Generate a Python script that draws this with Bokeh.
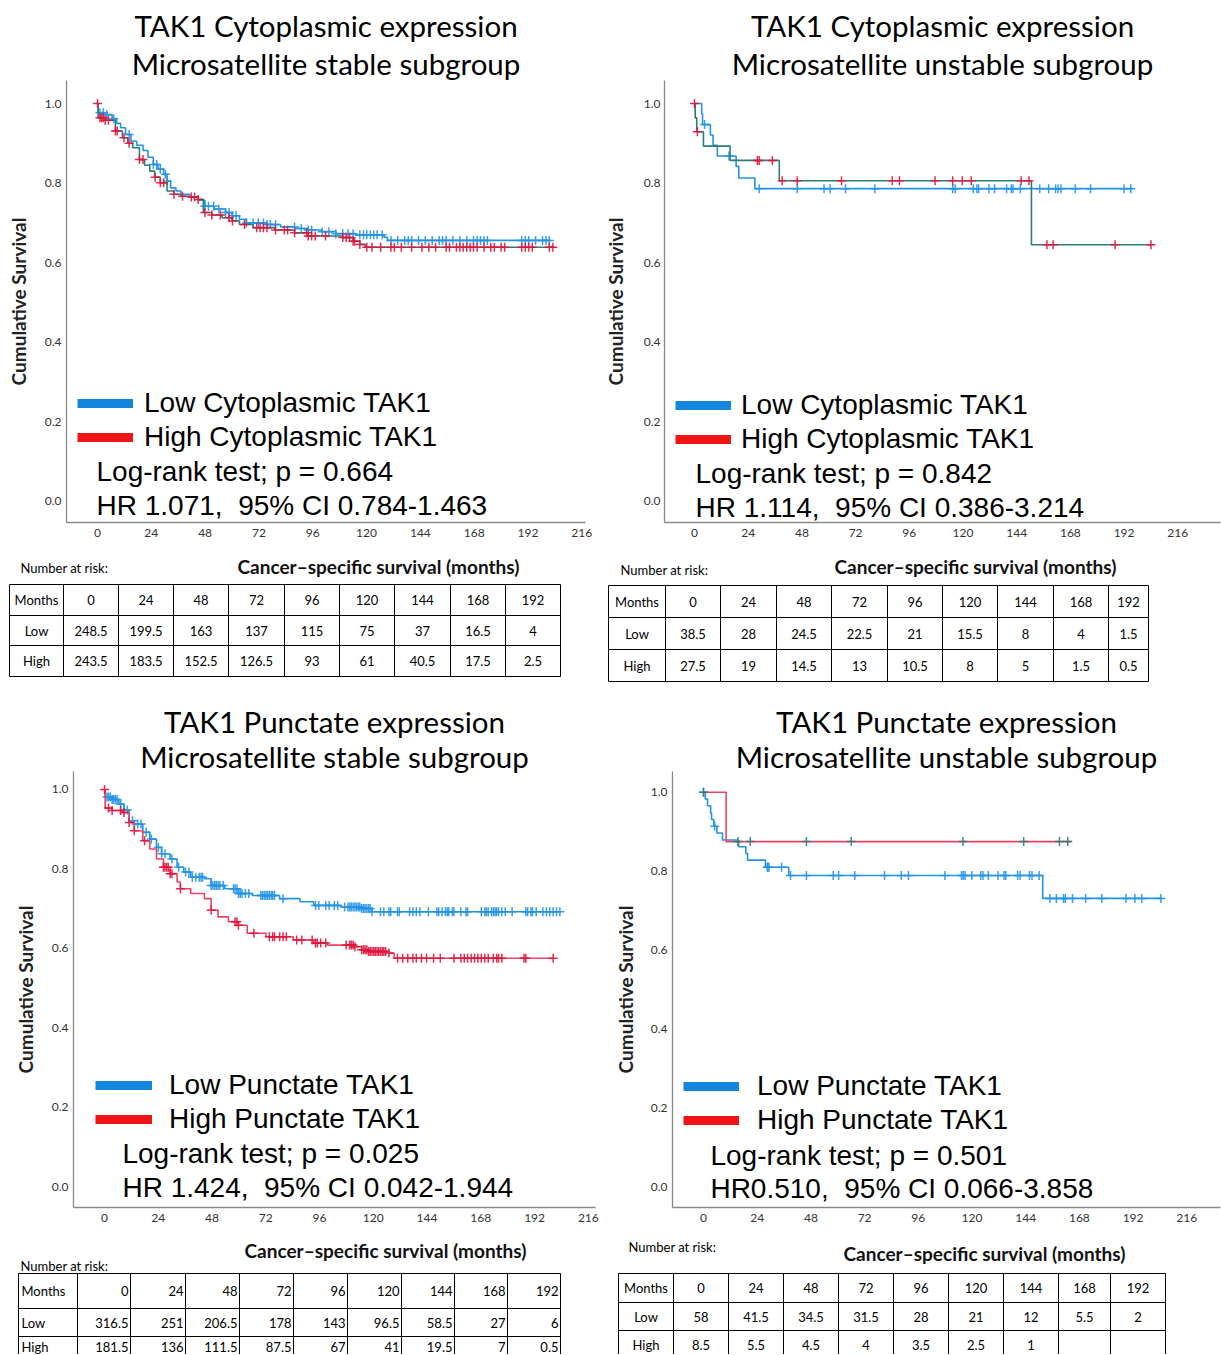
import numpy as np
from bokeh.plotting import figure
from bokeh.models import (Range1d, FixedTicker, PrintfTickFormatter, Title, Legend,
                          LegendItem, Label, ColumnDataSource)
from bokeh.layouts import column, row
from bokeh.embed import file_html
from bokeh.resources import INLINE
from bokeh.core.properties import value

# ------------------------------------------------------------------ DATA
title_line1 = ["TAK1 Cytoplasmic expression", "TAK1 Cytoplasmic expression",
               "TAK1 Punctate expression", "TAK1 Punctate expression"]
title_line2 = ["Microsatellite stable subgroup", "Microsatellite unstable subgroup",
               "Microsatellite stable subgroup", "Microsatellite unstable subgroup"]
low_labels = ["Low Cytoplasmic TAK1", "Low Cytoplasmic TAK1", "Low Punctate TAK1", "Low Punctate TAK1"]
high_labels = ["High Cytoplasmic TAK1", "High Cytoplasmic TAK1", "High Punctate TAK1", "High Punctate TAK1"]
logrank_texts = ["Log-rank test; p = 0.664", "Log-rank test; p = 0.842",
                 "Log-rank test; p = 0.025", "Log-rank test; p = 0.501"]
hr_texts = ["HR 1.071,\u00a0 95% CI 0.784-1.463", "HR 1.114,\u00a0 95% CI 0.386-3.214",
            "HR 1.424,\u00a0 95% CI 0.042-1.944", "HR0.510,\u00a0 95% CI 0.066-3.858"]
y_axis_title = "Cumulative Survival"
x_axis_title = "Cancer\u2013specific survival (months)"
risk_caption = "Number at risk:"
x_tick_values = [0, 24, 48, 72, 96, 120, 144, 168, 192, 216]
y_tick_values = [0.0, 0.2, 0.4, 0.6, 0.8, 1.0]

risk_months = [0, 24, 48, 72, 96, 120, 144, 168, 192]
risk_row_names = ["Months", "Low", "High"]
risk1_low = [248.5, 199.5, 163, 137, 115, 75, 37, 16.5, 4]
risk1_high = [243.5, 183.5, 152.5, 126.5, 93, 61, 40.5, 17.5, 2.5]
risk2_low = [38.5, 28, 24.5, 22.5, 21, 15.5, 8, 4, 1.5]
risk2_high = [27.5, 19, 14.5, 13, 10.5, 8, 5, 1.5, 0.5]
risk3_low = [316.5, 251, 206.5, 178, 143, 96.5, 58.5, 27, 6]
risk3_high = [181.5, 136, 111.5, 87.5, 67, 41, 19.5, 7, 0.5]
risk4_low = [58, 41.5, 34.5, 31.5, 28, 21, 12, 5.5, 2]
risk4_high = [8.5, 5.5, 4.5, 4, 3.5, 2.5, 1, None, None]

# Kaplan-Meier step curves (time in months, cumulative survival)
p1_low_t = [0, 0.3, 3.0, 6.5, 8.5, 10.3, 12.5, 14.9, 17.5, 20.3, 22.5, 24.9, 27.0, 29.5, 31.0, 32.6,
            35.0, 37.2, 41.0, 44.9, 47.9, 52.0, 57.1, 60.0, 63.3, 66.4, 75.0, 81.7, 88.0, 94.0,
            100.0, 106.3, 115.0, 127.8, 129.3, 202.0]
p1_low_s = [1.0, 0.977, 0.972, 0.962, 0.950, 0.939, 0.922, 0.905, 0.895, 0.882, 0.865, 0.847, 0.835,
            0.822, 0.805, 0.788, 0.780, 0.772, 0.765, 0.757, 0.742, 0.735, 0.726, 0.718, 0.709, 0.700,
            0.696, 0.690, 0.686, 0.682, 0.678, 0.673, 0.670, 0.664, 0.656, 0.656]
p1_low_cens = [1.1, 2.6, 4.1, 7.2, 14.1, 24.9, 26.4, 28.0, 30.3, 31.0, 47.9, 49.5, 51.8, 54.1, 57.1,
               58.7, 60.2, 61.8, 66.4, 69.4, 71.7, 74.0, 75.6, 77.1, 79.4, 87.9, 90.9, 94.0, 95.5,
               100.2, 103.2, 106.3, 109.4, 111.7, 114.0, 117.0, 118.6, 120.1, 121.7, 123.2, 124.7,
               127.0, 130.9, 133.9, 137.0, 138.6, 140.1, 143.2, 146.2, 149.3, 152.4, 153.9, 155.5,
               158.5, 161.6, 164.7, 167.7, 169.3, 170.8, 172.4, 173.9, 189.2, 190.8, 192.3, 195.4,
               198.5, 200.0, 201.5]
p1_high_t = [0, 0.3, 3.4, 8.0, 11.1, 13.5, 15.7, 18.7, 21.0, 23.3, 25.5, 28.0, 31.0, 34.0, 37.2, 41.0,
             44.9, 47.2, 51.0, 55.6, 60.0, 63.3, 69.4, 79.0, 87.9, 94.0, 109.4, 114.0, 117.0, 119.4, 204.0]
p1_high_s = [1.0, 0.964, 0.958, 0.931, 0.914, 0.900, 0.889, 0.859, 0.845, 0.830, 0.815, 0.801, 0.780,
             0.772, 0.767, 0.765, 0.759, 0.726, 0.720, 0.713, 0.705, 0.696, 0.688, 0.682, 0.675, 0.667,
             0.663, 0.654, 0.646, 0.639, 0.639]
p1_high_cens = [0.0, 1.1, 1.8, 2.6, 3.4, 4.9, 8.0, 8.8, 11.8, 14.1, 18.7, 20.3, 25.7, 28.0, 29.5, 34.1,
                37.9, 41.8, 43.3, 44.9, 47.9, 51.0, 54.8, 58.7, 60.2, 65.6, 71.0, 72.5, 74.0, 75.6,
                79.4, 83.3, 84.8, 87.9, 93.2, 94.0, 95.5, 97.1, 101.7, 109.4, 110.9, 112.4, 114.0,
                114.7, 117.0, 120.1, 122.4, 126.3, 130.9, 132.4, 135.5, 140.1, 144.7, 147.8, 150.8,
                155.5, 157.0, 160.1, 161.6, 163.1, 164.7, 166.2, 167.7, 169.3, 172.4, 175.4, 177.0,
                180.0, 181.6, 189.2, 190.8, 192.3, 193.9, 201.5, 203.1]

p2_low_t = [0, 3.2, 3.6, 7.1, 8.3, 10.2, 18.6, 19.8, 27.0, 196.0]
p2_low_s = [1.0, 0.974, 0.947, 0.921, 0.895, 0.868, 0.842, 0.813, 0.786, 0.786]
p2_low_cens = [4.5, 15.4, 28.9, 45.9, 57.9, 60.6, 67.5, 80.6, 115.4, 116.5, 124.6, 126.2, 127.0, 131.6,
               134.1, 139.5, 141.6, 142.4, 145.6, 154.3, 158.3, 161.4, 162.5, 163.8, 170.2, 177.0,
               192.0, 195.0]
p2_high_t = [0, 0.3, 1.0, 4.0, 15.9, 37.9, 150.6, 205.0]
p2_high_s = [1.0, 0.964, 0.929, 0.893, 0.857, 0.806, 0.645, 0.645]
p2_high_cens = [0.0, 1.3, 28.1, 28.9, 34.8, 39.2, 45.9, 65.7, 88.4, 91.6, 107.5, 115.4, 119.7, 123.7,
                146.0, 149.5, 157.5, 160.3, 188.0, 204.0]

p3_low_t = [0, 0.3, 3.4, 6.4, 8.7, 11.0, 13.3, 17.1, 20.2, 23.2, 25.5, 29.3, 32.4, 35.4, 38.5, 44.6,
            47.6, 53.7, 59.8, 66.0, 78.2, 87.3, 93.4, 105.6, 114.8, 119.4, 203.5]
p3_low_s = [1.0, 0.981, 0.975, 0.963, 0.948, 0.921, 0.913, 0.892, 0.875, 0.854, 0.838, 0.825, 0.804,
            0.792, 0.779, 0.775, 0.758, 0.750, 0.738, 0.733, 0.725, 0.717, 0.708, 0.704, 0.700, 0.692,
            0.692]
p3_low_cens = [1.1, 1.8, 2.6, 3.4, 4.1, 4.9, 5.6, 7.2, 8.7, 10.2, 12.5, 14.8, 16.3, 18.6, 20.9, 24.0,
               25.5, 27.0, 30.1, 33.1, 36.2, 37.7, 39.2, 40.8, 42.3, 43.1, 43.8, 47.6, 48.4, 49.2, 49.9,
               50.7, 51.5, 53.0, 57.6, 58.3, 59.1, 59.8, 60.6, 61.4, 62.9, 64.4, 69.8, 70.5, 71.3, 72.1,
               72.8, 73.6, 74.4, 75.1, 75.9, 79.7, 94.2, 95.7, 98.8, 100.3, 102.6, 104.1, 107.2, 108.7,
               109.5, 110.2, 111.0, 111.8, 112.5, 113.3, 114.0, 114.8, 115.6, 116.3, 117.1, 117.9,
               118.6, 119.4, 123.2, 124.7, 127.0, 127.8, 130.8, 131.6, 136.2, 137.7, 139.2, 140.8,
               144.6, 148.4, 149.2, 150.7, 152.2, 153.0, 153.7, 155.3, 156.0, 159.1, 161.4, 162.1,
               168.2, 169.8, 170.5, 171.3, 172.8, 173.6, 174.4, 175.1, 175.9, 177.4, 178.9, 182.0,
               188.1, 188.9, 190.4, 191.1, 192.7, 195.7, 197.3, 198.8, 200.3, 201.8, 203.3]
p3_high_t = [0, 0.3, 3.4, 7.9, 11.0, 13.3, 17.1, 20.2, 23.2, 26.3, 29.3, 32.4, 33.9, 38.5, 44.6, 47.6,
             50.7, 55.3, 59.8, 63.7, 72.1, 84.3, 93.4, 99.5, 111.8, 114.8, 117.9, 127.0, 129.3, 200.3]
p3_high_s = [1.0, 0.953, 0.947, 0.942, 0.917, 0.896, 0.871, 0.850, 0.825, 0.804, 0.788, 0.767, 0.750,
             0.738, 0.725, 0.696, 0.679, 0.667, 0.658, 0.638, 0.629, 0.621, 0.613, 0.608, 0.604, 0.596,
             0.592, 0.588, 0.575, 0.575]
p3_high_cens = [0.0, 1.8, 3.4, 7.2, 8.7, 11.0, 13.3, 17.9, 26.3, 27.0, 27.8, 28.5, 29.3, 30.1, 33.9,
                47.6, 58.3, 59.1, 59.8, 66.7, 73.6, 75.1, 75.9, 78.2, 79.7, 81.2, 85.8, 88.1, 92.7,
                94.2, 95.0, 96.5, 98.8, 107.9, 109.5, 110.2, 111.0, 111.8, 114.8, 115.6, 116.3, 117.1,
                117.9, 118.6, 119.4, 120.2, 120.9, 121.7, 122.4, 123.2, 124.0, 124.7, 125.5, 127.0,
                130.8, 133.1, 135.4, 137.7, 139.2, 141.5, 143.8, 146.9, 149.9, 156.0, 159.1, 160.6,
                162.1, 163.7, 165.2, 166.7, 168.2, 169.8, 171.3, 173.6, 175.1, 175.9, 177.4, 187.3,
                188.1, 200.3]

p4_low_t = [0, 0.8, 1.8, 3.2, 3.6, 4.6, 6.0, 8.5, 15.7, 18.9, 19.7, 27.7, 38.1, 151.6, 205.0]
p4_low_s = [1.0, 0.983, 0.966, 0.948, 0.931, 0.914, 0.897, 0.879, 0.862, 0.845, 0.828, 0.810, 0.789,
            0.731, 0.731]
p4_low_cens = [0.0, 5.0, 28.5, 28.8, 29.3, 34.9, 38.9, 46.0, 58.0, 60.4, 67.6, 80.9, 88.4, 91.6, 107.9,
               115.3, 116.1, 116.9, 119.9, 123.9, 124.9, 127.3, 131.6, 134.3, 135.1, 140.4, 141.5,
               145.7, 146.8, 150.0, 154.8, 157.7, 160.9, 161.7, 164.9, 170.8, 178.0, 188.8, 192.8,
               195.9, 204.4]
p4_high_t = [0, 10.1, 164.4]
p4_high_s = [1.0, 0.875, 0.875]
p4_high_cens = [0.0, 15.4, 20.9, 46.0, 66.0, 116.0, 143.1, 159.1, 162.8]

# ------------------------------------------------------------------ STYLE / LAYOUT
BLUE = "#2393e6"
TEAL = "#2f7c78"
CRIMSON = "#e0143c"
RED_LINE = "#ee4463"
LEG_BLUE = "#1485dc"
LEG_RED = "#f01414"
AXIS_GREY = "#8a8a8a"
TITLE_FONT = "Lato"
STAT_FONT = "Liberation Sans"

panels = [
    dict(w=600, h=548, left=66, right=15, top=80, bottom=26, x0=-13.83, x1=217.65, y0=-0.0528, y1=1.0578,
         ylab_standoff=12, ytick_standoff=5, leg=(11, 69), glyph_w=56, lab_off=11,
         stat_x=-0.45, stat_y=(0.075, -0.010), t2_standoff=0,
         low=(p1_low_t, p1_low_s, p1_low_cens, BLUE, BLUE),
         high=(p1_high_t, p1_high_s, p1_high_cens, TEAL, CRIMSON)),
    dict(w=621, h=548, left=64, right=1, top=80, bottom=26, x0=-13.41, x1=235.1, y0=-0.0528, y1=1.0578,
         ylab_standoff=14, ytick_standoff=4, leg=(11, 67), glyph_w=56, lab_off=10,
         stat_x=0.45, stat_y=(0.070, -0.015), t2_standoff=0,
         low=(p2_low_t, p2_low_s, p2_low_cens, BLUE, BLUE),
         high=(p2_high_t, p2_high_s, p2_high_cens, TEAL, CRIMSON)),
    dict(w=600, h=532, left=73, right=5, top=70, bottom=25, x0=-13.84, x1=219.2, y0=-0.0528, y1=1.0452,
         ylab_standoff=12, ytick_standoff=5, leg=(22, 72), glyph_w=57, lab_off=17,
         stat_x=8.0, stat_y=(0.083, -0.0025), t2_standoff=-5,
         low=(p3_low_t, p3_low_s, p3_low_cens, BLUE, BLUE),
         high=(p3_high_t, p3_high_s, p3_high_cens, RED_LINE, CRIMSON)),
    dict(w=621, h=532, left=72, right=1, top=70, bottom=22, x0=-13.85, x1=231.06, y0=-0.0528, y1=1.0528,
         ylab_standoff=11, ytick_standoff=5, leg=(11, 71), glyph_w=56, lab_off=18,
         stat_x=3.1, stat_y=(0.080, -0.005), t2_standoff=-5,
         low=(p4_low_t, p4_low_s, p4_low_cens, BLUE, BLUE),
         high=(p4_high_t, p4_high_s, p4_high_cens, RED_LINE, TEAL)),
]

tables = [
    dict(w=600, h=152, edges=[9, 63, 118, 173, 228, 284, 339, 394, 450, 505, 560], rows=[36, 67, 97, 128],
         align="center", cap=(20, 19), xt=(378, 18), low=risk1_low, high=risk1_high),
    dict(w=621, h=152, edges=[8, 65, 120, 176, 231, 287, 342, 397, 453, 508, 548], rows=[37, 69, 101, 133],
         align="center", cap=(20, 21), xt=(375, 18), low=risk2_low, high=risk2_high),
    dict(w=600, h=122, edges=[18, 77, 130, 185, 239, 293, 347, 401, 454, 507, 560], rows=[41, 76, 104, 132],
         align="right", cap=(20, 33), xt=(385, 18), low=risk3_low, high=risk3_high),
    dict(w=621, h=122, edges=[18, 73, 128, 183, 238, 293, 348, 403, 458, 510, 565], rows=[41, 70, 98, 126],
         align="center", cap=(28, 14), xt=(384, 21), low=risk4_low, high=risk4_high),
]


def step_value(t, s, c):
    t = np.asarray(t)
    s = np.asarray(s)
    idx = np.searchsorted(t, np.asarray(c), side="right") - 1
    return s[np.clip(idx, 0, len(s) - 1)]


def km_panel(i):
    cfg = panels[i]
    p = figure(width=cfg["w"], height=cfg["h"], title=None, toolbar_location=None, output_backend="svg",
               x_range=Range1d(cfg["x0"], cfg["x1"]), y_range=Range1d(cfg["y0"], cfg["y1"]),
               min_border_left=cfg["left"], min_border_right=cfg["right"],
               min_border_top=cfg["top"], min_border_bottom=cfg["bottom"])
    p.outline_line_color = None
    p.xgrid.visible = False
    p.ygrid.visible = False
    p.add_layout(Title(text=title_line2[i], align="center", text_font=TITLE_FONT, text_font_size="29.5px",
                       text_font_style="normal", standoff=cfg["t2_standoff"], text_color="black"), "above")
    p.add_layout(Title(text=title_line1[i], align="center", text_font=TITLE_FONT, text_font_size="29.5px",
                       text_font_style="normal", standoff=2, text_color="black"), "above")

    for ax in (p.xaxis[0], p.yaxis[0]):
        ax.axis_line_color = AXIS_GREY
        ax.axis_line_width = 1.3
        ax.major_tick_line_color = None
        ax.minor_tick_line_color = None
        ax.major_tick_out = 0
        ax.major_tick_in = 0
        ax.minor_tick_out = 0
        ax.minor_tick_in = 0
        ax.major_label_text_font = "Lato"
        ax.major_label_text_font_size = "12px"
        ax.major_label_text_color = "#333333"
    p.xaxis.ticker = FixedTicker(ticks=x_tick_values)
    p.xaxis.major_label_standoff = 6
    p.yaxis.ticker = FixedTicker(ticks=y_tick_values)
    p.yaxis.formatter = PrintfTickFormatter(format="%.1f")
    p.yaxis.major_label_standoff = cfg["ytick_standoff"]
    p.yaxis.axis_label = y_axis_title
    p.yaxis.axis_label_text_font = TITLE_FONT
    p.yaxis.axis_label_text_font_size = "19px"
    p.yaxis.axis_label_text_font_style = "bold"
    p.yaxis.axis_label_text_color = "#222222"
    p.yaxis.axis_label_standoff = cfg["ylab_standoff"]

    for key in ("low", "high"):
        t, s, cens, line_col, cens_col = cfg[key]
        p.step(x=t, y=s, mode="after", line_color=line_col, line_width=1.6)
        cy = step_value(t, s, cens)
        src = ColumnDataSource(dict(x=cens, y=cy))
        p.scatter(x="x", y="y", source=src, marker="cross", size=9, line_color=cens_col,
                  line_width=1.5, line_alpha=0.9)

    r_low = p.line(x=[np.nan], y=[np.nan], line_color=LEG_BLUE, line_width=9)
    r_high = p.line(x=[np.nan], y=[np.nan], line_color=LEG_RED, line_width=9)
    legend = Legend(items=[LegendItem(label=low_labels[i], renderers=[r_low]),
                           LegendItem(label=high_labels[i], renderers=[r_high])],
                    location=cfg["leg"], orientation="vertical",
                    background_fill_alpha=0, border_line_color=None, padding=0, margin=0,
                    spacing=2, glyph_width=cfg["glyph_w"], glyph_height=30,
                    label_standoff=cfg["lab_off"], label_text_font=STAT_FONT,
                    label_text_font_size="28px", label_height=30, label_text_color="black")
    p.add_layout(legend, "center")

    for txt, yy in zip((logrank_texts[i], hr_texts[i]), cfg["stat_y"]):
        p.add_layout(Label(x=cfg["stat_x"], y=yy, text=txt, text_font=STAT_FONT, text_font_size="28px",
                           text_baseline="middle", text_align="left", text_color="black"))
    return p


def fmt(v):
    if v is None:
        return ""
    if float(v).is_integer():
        return str(int(v))
    return str(v)


def risk_table(i):
    cfg = tables[i]
    W, H = cfg["w"], cfg["h"]
    p = figure(width=W, height=H, toolbar_location=None, output_backend="svg",
               x_range=Range1d(0, W), y_range=Range1d(H, 0), x_axis_location=None, y_axis_location=None,
               min_border=0)
    p.outline_line_color = None
    p.xgrid.visible = False
    p.ygrid.visible = False
    edges = cfg["edges"]
    rows = cfg["rows"]
    lefts, rights, tops, bottoms = [], [], [], []
    for r in range(3):
        for c in range(10):
            lefts.append(edges[c]); rights.append(edges[c + 1])
            tops.append(rows[r]); bottoms.append(rows[r + 1])
    p.quad(left=lefts, right=rights, top=tops, bottom=bottoms, fill_color=None,
           line_color="black", line_width=1)

    values = [[fmt(m) for m in risk_months], [fmt(v) for v in cfg["low"]], [fmt(v) for v in cfg["high"]]]
    tx, ty, tt = [], [], []
    nx, ny, nt = [], [], []
    for r in range(3):
        yc = min((rows[r] + rows[r + 1]) / 2.0, H - 8)
        if cfg["align"] == "right":
            nx.append(edges[0] + 3)
        else:
            nx.append((edges[0] + edges[1]) / 2.0)
        ny.append(yc); nt.append(risk_row_names[r])
        for c in range(9):
            if cfg["align"] == "right":
                tx.append(edges[c + 2] - 2)
            else:
                tx.append((edges[c + 1] + edges[c + 2]) / 2.0)
            ty.append(yc); tt.append(values[r][c])
    p.text(x=tx, y=ty, text=tt, text_align=cfg["align"], text_baseline="middle",
           text_font=value("Lato"), text_font_size="13px", text_color="black")
    p.text(x=nx, y=ny, text=nt, text_align="left" if cfg["align"] == "right" else "center",
           text_baseline="middle", text_font=value("Lato"), text_font_size="13px", text_color="black")

    p.add_layout(Label(x=cfg["cap"][0], y=cfg["cap"][1], text=risk_caption, text_font="Lato",
                       text_font_size="13px", text_baseline="middle", text_align="left", text_color="black"))
    p.add_layout(Label(x=cfg["xt"][0], y=cfg["xt"][1], text=x_axis_title, text_font="Lato",
                       text_font_size="19px", text_font_style="bold", text_baseline="middle",
                       text_align="center", text_color="#111111"))
    return p


k = [km_panel(i) for i in range(4)]
t = [risk_table(i) for i in range(4)]
layout = column(row(k[0], k[1], spacing=0), row(t[0], t[1], spacing=0),
                row(k[2], k[3], spacing=0), row(t[2], t[3], spacing=0), spacing=0)

open("out.html", "w").write(file_html(layout, INLINE))
